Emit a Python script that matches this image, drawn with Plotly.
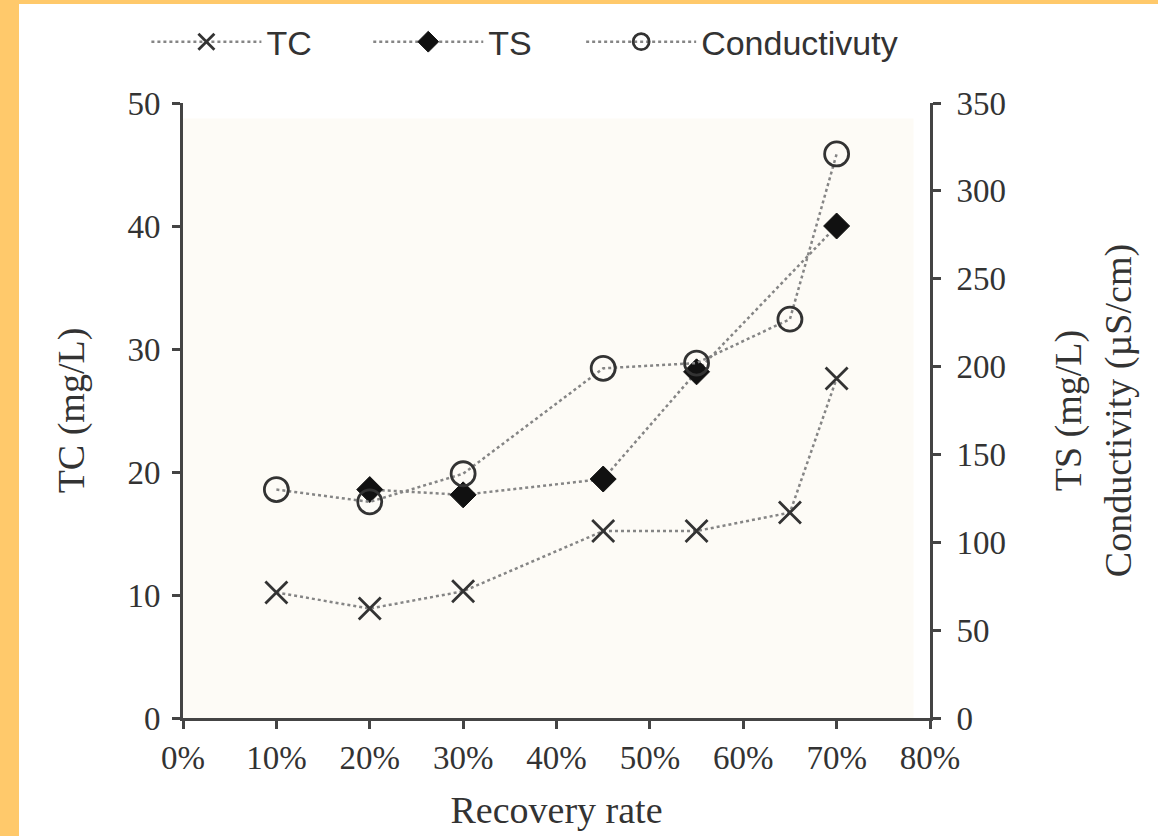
import plotly.graph_objects as go

# Data
recovery_tc = [0.10, 0.20, 0.30, 0.45, 0.55, 0.65, 0.70]
tc_values = [10.2, 8.9, 10.3, 15.2, 15.2, 16.7, 27.6]

recovery_ts = [0.20, 0.30, 0.45, 0.55, 0.70]
ts_values = [130, 127, 136, 197, 280]

recovery_cond = [0.10, 0.20, 0.30, 0.45, 0.55, 0.65, 0.70]
cond_values = [130, 123, 139, 199, 202, 227, 321]

x_ticks = [0.0, 0.1, 0.2, 0.3, 0.4, 0.5, 0.6, 0.7, 0.8]
x_tick_labels = ["0%", "10%", "20%", "30%", "40%", "50%", "60%", "70%", "80%"]

SERIF = "Liberation Serif, Times New Roman, serif"
SANS = "Liberation Sans, Arial, sans-serif"
LINE = dict(color="#858585", width=2.5, dash="dot")
AXCOL = "#444444"
TXT = "#333333"

fig = go.Figure()
fig.add_trace(go.Scatter(
    x=recovery_tc, y=tc_values, name="TC", mode="lines+markers",
    line=LINE, legend="legend",
    marker=dict(symbol="x-thin-open", size=22, color=TXT,
                line=dict(color=TXT, width=2.8)),
    yaxis="y"))
fig.add_trace(go.Scatter(
    x=recovery_ts, y=ts_values, name="TS", mode="lines+markers",
    line=LINE, legend="legend2",
    marker=dict(symbol="diamond", size=20, color="#111111",
                line=dict(color="#111111", width=1)),
    yaxis="y2"))
fig.add_trace(go.Scatter(
    x=recovery_cond, y=cond_values, name="Conductivuty", mode="lines+markers",
    line=LINE, legend="legend3",
    marker=dict(symbol="circle-open", size=24, color=TXT,
                line=dict(color=TXT, width=2.8)),
    yaxis="y2"))

def leg(x):
    return dict(orientation="h", x=x, y=1.099, xanchor="left", yanchor="middle",
                font=dict(family=SANS, size=34, color=TXT),
                bgcolor="rgba(0,0,0,0)", itemwidth=110)

tickfont = dict(family=SERIF, size=33, color=TXT)
titlefont = dict(family=SERIF, size=38, color=TXT)
axis_common = dict(showgrid=False, zeroline=False, showline=True, linecolor=AXCOL,
                   linewidth=3, ticks="outside", ticklen=8, tickwidth=2.5,
                   tickcolor=AXCOL, tickfont=tickfont)

fig.update_layout(
    width=1158, height=836,
    margin=dict(l=183, r=228, t=103, b=118, autoexpand=False),
    paper_bgcolor="#FFC96B",
    plot_bgcolor="rgba(0,0,0,0)",
    showlegend=True,
    legend=leg(-0.049),
    legend2=leg(0.248),
    legend3=leg(0.533),
    xaxis=dict(range=[0, 0.8], tickvals=x_ticks, ticktext=x_tick_labels,
               title=dict(text="Recovery rate", font=titlefont, standoff=22),
               **axis_common),
    yaxis=dict(range=[0, 50], dtick=10, ticklabelstandoff=5,
               title=dict(text="TC (mg/L)", font=titlefont, standoff=32),
               **axis_common),
    yaxis2=dict(range=[0, 350], dtick=50, overlaying="y", side="right",
                ticklabelstandoff=9,
                title=dict(text="TS (mg/L)<br>Conductivity (µS/cm)",
                           font=titlefont, standoff=50),
                **axis_common),
    shapes=[
        dict(type="rect", xref="paper", yref="paper", layer="below",
             x0=(19 - 183) / 747, x1=(1170 - 183) / 747,
             y0=(718 - 850) / 615, y1=(718 - 4) / 615,
             fillcolor="white", line=dict(width=0)),
        dict(type="rect", xref="paper", yref="paper", layer="below",
             x0=0, x1=0.978, y0=0, y1=0.975,
             fillcolor="#FDFBF6", line=dict(width=0)),
    ],
)

fig.write_html("out.html", config={"displayModeBar": False},
               post_script="document.body.style.margin='0px';document.body.style.overflow='hidden';")
